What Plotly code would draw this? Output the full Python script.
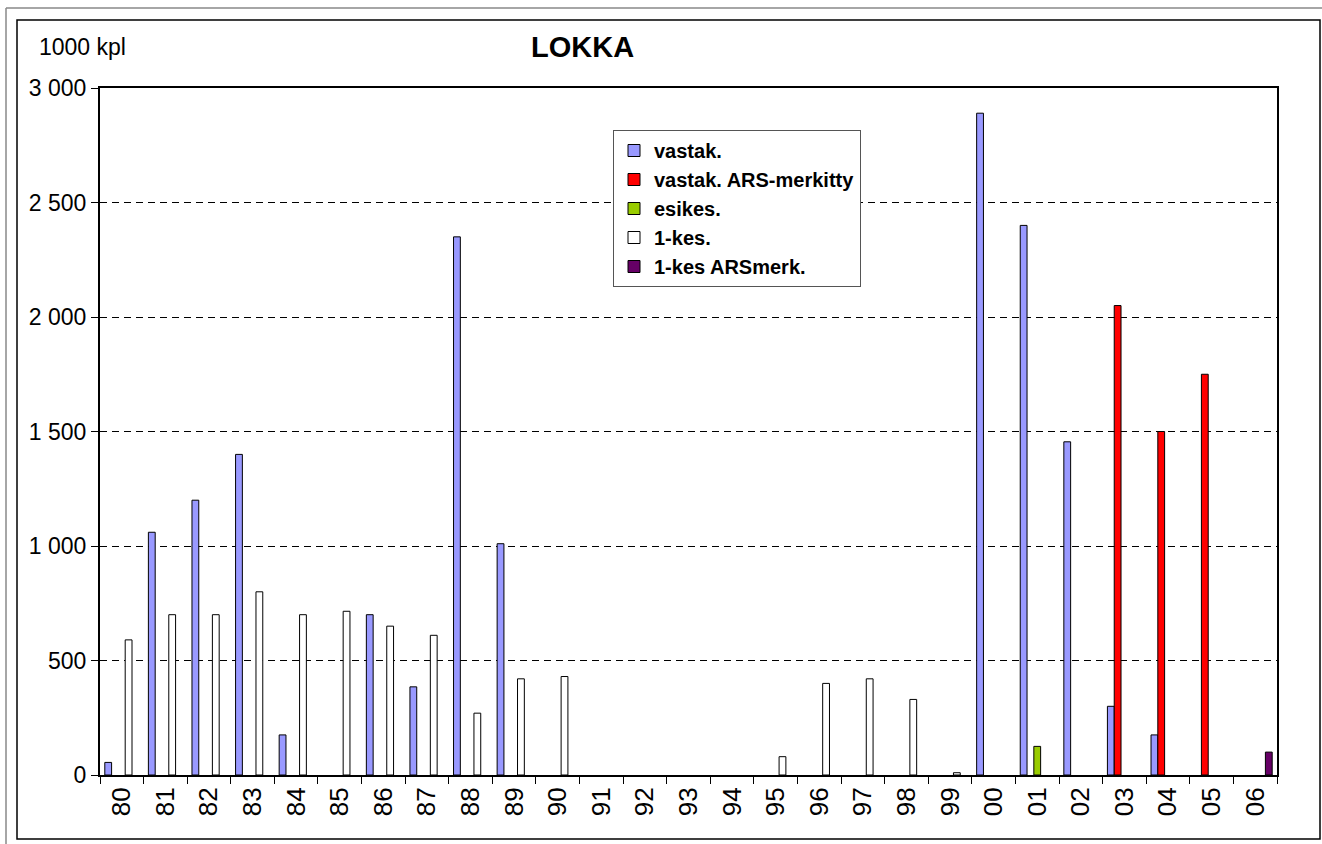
import plotly.graph_objects as go

years = ["80", "81", "82", "83", "84", "85", "86", "87", "88", "89",
         "90", "91", "92", "93", "94", "95", "96", "97", "98", "99",
         "00", "01", "02", "03", "04", "05", "06"]

vastak = [55, 1060, 1200, 1400, 175, None, 700, 385, 2350, 1010,
          None, None, None, None, None, None, None, None, None, None,
          2890, 2400, 1455, 300, 175, None, None]
vastak_ars = [None] * 23 + [2050, 1500, 1750, None]
esikes = [None] * 21 + [125] + [None] * 5
kes1 = [590, 700, 700, 800, 700, 715, 650, 610, 270, 420,
        430, None, None, None, None, 80, 400, 420, 330, 10,
        None, None, None, None, None, None, None]
kes1_ars = [None] * 26 + [100]

series_names = ["vastak.", "vastak. ARS-merkitty", "esikes.", "1-kes.", "1-kes ARSmerk."]
series_values = [vastak, vastak_ars, esikes, kes1, kes1_ars]
series_colors = ["#9999FF", "#FF0000", "#99CC00", "#FFFFFF", "#660066"]

FONT = "Liberation Sans, Arial, sans-serif"

fig = go.Figure()
for name, vals, col in zip(series_names, series_values, series_colors):
    fig.add_trace(go.Bar(
        x=years, y=vals, name=name,
        marker=dict(color=col, line=dict(color="#000000", width=1)),
    ))

W, H = 1322, 844
L, R, T, B = 100, 45, 88, 69
pw, ph = W - L - R, H - T - B


def px(xp):
    return (xp - L) / pw


def py(yp):
    return (H - B - yp) / ph


fig.update_layout(
    width=W, height=H, autosize=False,
    margin=dict(l=L, r=R, t=T, b=B, pad=0),
    paper_bgcolor="white", plot_bgcolor="white",
    barmode="group", bargap=0.22, bargroupgap=0,
    separators=", ",
    font=dict(family=FONT, color="#000000"),
    showlegend=True,
    legend=dict(
        x=px(613), y=py(130), xanchor="left", yanchor="top",
        bgcolor="white", bordercolor="#555555", borderwidth=1,
        font=dict(family=FONT, size=20, color="#000000", weight="bold"),
        itemwidth=30, tracegroupgap=0,
    ),
    xaxis=dict(
        type="category", tickangle=-90,
        tickfont=dict(family=FONT, size=26, color="#000000"),
        showline=True, linecolor="#000000", linewidth=2, mirror=True,
        ticks="outside", ticklen=7, tickcolor="#000000", tickwidth=1,
        tickson="boundaries", showgrid=False,
    ),
    yaxis=dict(
        range=[0, 3000], dtick=500, tickformat=",d",
        tickfont=dict(family=FONT, size=23, color="#000000"),
        showline=True, linecolor="#000000", linewidth=2, mirror=True,
        ticks="outside", ticklen=7, tickcolor="#000000", tickwidth=1,
        showgrid=True, gridcolor="#000000", gridwidth=1, griddash="7px,5px",
        zeroline=False,
    ),
    annotations=[
        dict(text="1000 kpl", xref="paper", yref="paper", x=px(37), y=py(47),
             xanchor="left", yanchor="middle", showarrow=False,
             font=dict(family=FONT, size=23, color="#000000")),
        dict(text="<b>LOKKA</b>", xref="paper", yref="paper", x=px(582), y=py(47),
             xanchor="center", yanchor="middle", showarrow=False,
             font=dict(family=FONT, size=29, color="#000000")),
    ],
    shapes=[
        dict(type="rect", xref="paper", yref="paper",
             x0=px(17), x1=px(1320), y0=py(839), y1=py(20),
             line=dict(color="#000000", width=1.5), layer="below"),
        dict(type="line", xref="paper", yref="paper",
             x0=px(6), x1=px(1322), y0=py(8), y1=py(8),
             line=dict(color="#888888", width=1.5)),
        dict(type="line", xref="paper", yref="paper",
             x0=px(6), x1=px(6), y0=py(8), y1=py(844),
             line=dict(color="#888888", width=1.5)),
    ],
)

fig.write_html("out.html", config={"displayModeBar": False},
               post_script="document.body.style.margin='0';document.body.style.overflow='hidden';")
